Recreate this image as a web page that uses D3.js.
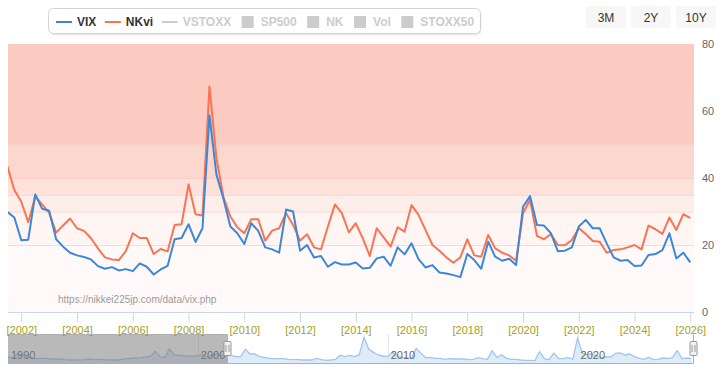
<!DOCTYPE html>
<html>
<head>
<meta charset="utf-8">
<script src="https://cdn.jsdelivr.net/npm/d3@7"></script>
<style>
  body { margin: 0; background: #fff; }
  svg { display: block; font-family: "Liberation Sans", Arial, Helvetica, sans-serif; }
</style>
</head>
<body>
<svg id="chart" width="724" height="376"></svg>
<script>
// quarterly samples, the first one is July 2001
var firstQuarter = 2001.5;

var vix = [29.9, 28.2,
  21.4, 21.6, 35.1, 30.8,  30.2, 21.7, 19.5, 17.7,  16.9, 16.4, 15.7, 13.7,
  12.9, 13.4, 12.4, 12.8,  12.2, 14.5, 13.5, 11.2,  12.7, 13.8, 21.7, 22.1,
  26.2, 20.9, 25.0, 58.7,  41.0, 33.9, 25.5, 23.5,  20.3, 26.5, 24.2, 19.3,
  18.7, 17.7, 30.6, 30.0,  18.3, 20.0, 16.3, 16.7,  13.5, 14.9, 14.2, 14.2,
  14.8, 13.0, 13.2, 16.0,  16.5, 13.8, 19.3, 17.2,  20.5, 15.8, 13.3, 14.0,
  11.8, 11.5, 11.0, 10.4,  17.3, 15.5, 12.9, 21.0,  16.5, 15.3, 15.9, 14.0,
  31.4, 34.6, 26.0, 25.8,  23.5, 18.1, 18.3, 19.3,  25.5, 27.5, 25.0, 25.0,
  20.5, 16.3, 15.3, 15.5,  13.7, 13.9, 17.0, 17.3,  18.5, 23.5, 16.0, 17.7,
  14.8];

var nkvi = [43.5, 36.4,
  32.9, 26.8, 34.5, 32.1,  29.6, 23.7, 25.8, 27.9,  25.0, 24.2, 22.0, 19.0,
  16.3, 15.7, 15.5, 18.2,  23.5, 22.1, 22.1, 17.3,  18.8, 18.1, 26.0, 26.2,
  38.1, 29.2, 28.8, 67.3,  46.0, 34.4, 28.5, 25.3,  23.5, 27.7, 27.7, 21.3,
  24.3, 25.0, 29.5, 26.0,  21.3, 23.2, 19.3, 18.7,  25.5, 32.1, 29.5, 23.8,
  26.5, 22.0, 16.7, 25.0,  22.3, 19.5, 25.3, 24.0,  31.9, 29.0, 24.5, 20.0,
  18.3, 16.3, 14.7, 16.3,  21.7, 16.9, 16.5, 23.0,  19.0, 17.7, 16.9, 15.3,
  29.5, 33.5, 22.7, 21.7,  23.3, 20.0, 19.9, 21.5,  25.0, 23.3, 21.2, 21.0,
  17.7, 18.5, 18.7, 19.3,  20.0, 18.7, 25.8, 24.7,  23.3, 28.2, 24.5, 29.2,
  28.0];

// navigator series (VIX, quarterly from 1990)
var navStart = 1990;
var navVix = [
  21, 19, 30, 27,  22, 17, 16, 17,  17, 15, 15, 15,  13, 12, 12, 12,
  13, 15, 13, 14,  13, 12, 12, 12,  14, 16, 17, 18,  19, 21, 23, 38,
  22, 19, 45, 27,  26, 25, 23, 24,  24, 29, 20, 27,  31, 24, 35, 26,
  22, 22, 44, 30,  30, 22, 20, 17,  16, 16, 16, 14,  13, 13, 12, 12,
  12, 17, 13, 11,  12, 14, 26, 22,  26, 22, 28, 80,  45, 35, 27, 24,
  22, 35, 24, 19,  19, 17, 47, 32,  19, 20, 17, 17,  14, 16, 15, 15,
  15, 13, 14, 19,  16, 14, 40, 20,  28, 17, 14, 14,  12, 11, 11, 10,
  37, 16, 13, 33,  17, 16, 20, 14,  78, 33, 28, 30,  25, 18, 22, 21,
  32, 33, 27, 30,  22, 17, 14, 20,  13, 14, 18, 17,  19, 40, 16, 18,
  16];

var bandBreaks = [0, 20, 30, 35, 40, 50, 80];
var yTicks = [0, 20, 40, 60, 80];
var xTickYears = [2002, 2004, 2006, 2008, 2010, 2012, 2014, 2016, 2018, 2020, 2022, 2024, 2026];
var navLabelYears = [1990, 2000, 2010, 2020];
var legendNames = ["VIX", "NKvi", "VSTOXX", "SP500", "NK", "Vol", "STOXX50"];
var rangeButtons = ["3M", "2Y", "10Y"];
var viewRange = [2001.523, 2026.133];
var sourceText = "https://nikkei225jp.com/data/vix.php";

var bandColors = ["#fffaf9", "#fff5f2", "#feeee9", "#fde1da", "#fcd7ce", "#fbcbc1"];
var legendStyle = [
  {sym: "line", color: "#3d87d9", on: true},
  {sym: "line", color: "#fa7352", on: true},
  {sym: "line", color: "#cccccc", on: false},
  {sym: "rect", color: "#cccccc", on: false},
  {sym: "rect", color: "#cccccc", on: false},
  {sym: "rect", color: "#cccccc", on: false},
  {sym: "rect", color: "#cccccc", on: false}
];

var svg = d3.select("#chart");
var plot = {left: 8, right: 694, top: 44, bottom: 312};
var nav = {top: 334, bottom: 364};

var x = d3.scaleLinear().domain(viewRange).range([plot.left, plot.right]);
var y = d3.scaleLinear().domain([0, 80]).range([plot.bottom, plot.top]);
var xNav = d3.scaleLinear().domain([navStart, viewRange[1]]).range([plot.left, plot.right]);
var yNav = d3.scaleLinear().domain([0, 90]).range([nav.bottom, nav.top]);

// plot bands
var bands = d3.pairs(bandBreaks);
svg.append("g").selectAll("rect").data(bands).join("rect")
  .attr("x", plot.left).attr("width", plot.right - plot.left)
  .attr("y", function(d) { return y(d[1]); })
  .attr("height", function(d) { return y(d[0]) - y(d[1]); })
  .attr("fill", function(d, i) { return bandColors[i]; });
svg.append("g").selectAll("line").data(bandBreaks.slice(1, -1)).join("line")
  .attr("x1", plot.left).attr("x2", plot.right)
  .attr("y1", function(d) { return y(d) + 0.5; }).attr("y2", function(d) { return y(d) + 0.5; })
  .attr("stroke", "#f7c3b8").attr("stroke-opacity", 0.6);

// y labels on the right
svg.append("g").selectAll("text").data(yTicks).join("text")
  .attr("x", 702).attr("y", function(d) { return y(d) + 4; })
  .attr("font-size", 11).attr("fill", "#666")
  .text(function(d) { return d; });

// x axis
var xAxis = d3.axisBottom(x).tickValues(xTickYears).tickSize(10).tickPadding(4)
  .tickFormat(function(d) { return "[" + d + "]"; });
var gx = svg.append("g").attr("transform", "translate(0," + plot.bottom + ")").call(xAxis);
gx.select(".domain").attr("stroke", "#ccd6eb").attr("d", "M" + plot.left + ",0.5H" + plot.right);
gx.selectAll(".tick line").attr("stroke", "#ccd6eb");
gx.selectAll(".tick text").attr("fill", "#a6a020").attr("font-size", 11)
  .attr("font-family", "\"Liberation Sans\", Arial, sans-serif");

// watermark
svg.append("text").attr("x", 58).attr("y", 303)
  .attr("font-size", 10).attr("fill", "#9a9a9a").text(sourceText);

// series
svg.append("clipPath").attr("id", "clip").append("rect")
  .attr("x", plot.left).attr("y", plot.top - 5)
  .attr("width", plot.right - plot.left).attr("height", plot.bottom - plot.top + 5);

var line = d3.line()
  .x(function(d, i) { return x(firstQuarter + i * 0.25); })
  .y(function(d) { return y(d); });

var lines = svg.append("g").attr("clip-path", "url(#clip)");
lines.append("path").datum(nkvi).attr("d", line)
  .attr("fill", "none").attr("stroke", legendStyle[1].color).attr("stroke-width", 2)
  .attr("stroke-linejoin", "round");
lines.append("path").datum(vix).attr("d", line)
  .attr("fill", "none").attr("stroke", legendStyle[0].color).attr("stroke-width", 2)
  .attr("stroke-linejoin", "round");

// navigator
var gNav = svg.append("g");
gNav.selectAll("line.grid").data(navLabelYears.slice(1)).join("line")
  .attr("class", "grid")
  .attr("x1", function(d) { return Math.round(xNav(d)) + 0.5; })
  .attr("x2", function(d) { return Math.round(xNav(d)) + 0.5; })
  .attr("y1", nav.top).attr("y2", nav.bottom)
  .attr("stroke", "#e6e6e6");

var navArea = d3.area()
  .x(function(d, i) { return xNav(navStart + i * 0.25); })
  .y0(nav.bottom).y1(function(d) { return yNav(d); });
var navLine = navArea.lineY1();
gNav.append("path").datum(navVix).attr("d", navArea).attr("fill", "#deebf9");
gNav.append("path").datum(navVix).attr("d", navLine)
  .attr("fill", "none").attr("stroke", "#a2c6ee").attr("stroke-width", 1.3);

gNav.selectAll("text").data(navLabelYears).join("text")
  .attr("x", function(d) { return xNav(d) + 3; }).attr("y", 359)
  .attr("font-size", 11).attr("fill", "#666")
  .text(function(d) { return d; });

var zMin = Math.round(xNav(viewRange[0])) + 0.5;
var zMax = Math.round(xNav(viewRange[1])) - 0.5;
gNav.append("rect").attr("x", plot.left).attr("y", nav.top)
  .attr("width", zMin - plot.left).attr("height", nav.bottom - nav.top)
  .attr("fill", "rgba(128,128,128,0.55)");
gNav.append("path")
  .attr("d", "M" + plot.left + "," + (nav.top + 0.5) + "H" + zMin + "V" + (nav.bottom - 0.5) +
    "H" + zMax + "V" + (nav.top + 0.5))
  .attr("fill", "none").attr("stroke", "#b0b0b0");

[zMin, zMax].forEach(function(hx) {
  var h = gNav.append("g").attr("transform", "translate(" + hx + ",341)");
  h.append("rect").attr("x", -3.5).attr("y", 0.5).attr("width", 7).attr("height", 14)
    .attr("rx", 1).attr("fill", "#f2f2f2").attr("stroke", "#999");
  h.append("path").attr("d", "M-1.5,4V11M1.5,4V11").attr("stroke", "#999");
});

// legend
var legend = svg.append("g");
legend.append("rect").attr("x", 49.5).attr("y", 10.5).attr("width", 432).attr("height", 25)
  .attr("rx", 5).attr("fill", "#000").attr("opacity", 0.08);
legend.append("rect").attr("x", 48.5).attr("y", 8.5).attr("width", 432).attr("height", 25)
  .attr("rx", 5).attr("fill", "#fff").attr("stroke", "#d4d4d4");

var lx = 56;
legendNames.forEach(function(name, i) {
  var st = legendStyle[i];
  if (st.sym == "line") {
    legend.append("line").attr("x1", lx).attr("x2", lx + 16).attr("y1", 22).attr("y2", 22)
      .attr("stroke", st.color).attr("stroke-width", 2);
  } else {
    legend.append("rect").attr("x", lx + 2).attr("y", 16).attr("width", 12).attr("height", 12)
      .attr("fill", st.color);
  }
  var t = legend.append("text").attr("x", lx + 21).attr("y", 26)
    .attr("font-size", 12).attr("font-weight", "bold")
    .attr("fill", st.on ? "#333" : "#cccccc").text(name);
  lx += 21 + t.node().getComputedTextLength() + 8.5;
});

// range buttons
var btn = svg.append("g").selectAll("g").data(rangeButtons).join("g")
  .attr("transform", function(d, i) { return "translate(" + (586 + i * 45) + ",6)"; });
btn.append("rect").attr("width", 40).attr("height", 22).attr("rx", 2).attr("fill", "#f7f7f7");
btn.append("text").attr("x", 20).attr("y", 15.5).attr("text-anchor", "middle")
  .attr("font-size", 12).attr("fill", "#333").text(function(d) { return d; });
</script>
</body>
</html>
